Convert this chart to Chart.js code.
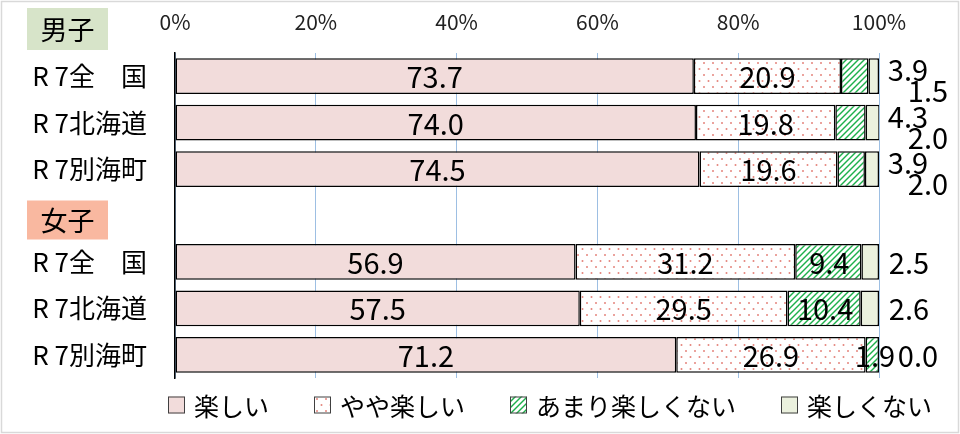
<!DOCTYPE html>
<html><head><meta charset="utf-8">
<script src="https://cdn.jsdelivr.net/npm/chart.js@4/dist/chart.umd.min.js"></script>
<style>html,body{margin:0;padding:0;background:#fff}#wrap{width:960px;height:434px;position:relative}</style>
</head><body><div id="wrap"><canvas id="c"></canvas></div>
<script>
const categories = ['R 7全　国','R 7北海道','R 7別海町','','R 7全　国','R 7北海道','R 7別海町'];
const seriesNames = ['楽しい','やや楽しい','あまり楽しくない','楽しくない'];
const tanoshii      = [73.7, 74.0, 74.5, null, 56.9, 57.5, 71.2];
const yayaTanoshii  = [20.9, 19.8, 19.6, null, 31.2, 29.5, 26.9];
const amari         = [3.9, 4.3, 3.9, null, 9.4, 10.4, 1.9];
const tanoshikunai  = [1.5, 2.0, 2.0, null, 2.5, 2.6, 0.0];
const xTicks = [0,20,40,60,80,100];
const groupHeaders = ['男子','女子'];

const FONT = '"Noto Sans CJK JP","Noto Sans",sans-serif';

function dotPattern(){
  const c=document.createElement('canvas');c.width=9;c.height=12;
  const g=c.getContext('2d');g.fillStyle='#fff';g.fillRect(0,0,9,12);
  g.fillStyle='#E4847C';
  g.beginPath();g.arc(2,3,1,0,Math.PI*2);g.fill();
  g.beginPath();g.arc(6.5,9,1,0,Math.PI*2);g.fill();
  return document.createElement('canvas').getContext('2d').createPattern(c,'repeat');
}
function stripePattern(){
  const c=document.createElement('canvas');c.width=6;c.height=6;
  const g=c.getContext('2d');g.fillStyle='#fff';g.fillRect(0,0,6,6);
  g.strokeStyle='#1DB04B';g.lineWidth=1.4;
  [[-3,9,9,-3],[-6,6,6,-6],[0,12,12,0]].forEach(l=>{g.beginPath();g.moveTo(l[0],l[1]);g.lineTo(l[2],l[3]);g.stroke();});
  return document.createElement('canvas').getContext('2d').createPattern(c,'repeat');
}
const fills = ['#F2DCDB', dotPattern(), stripePattern(), '#EBF1DE'];
const values = [tanoshii, yayaTanoshii, amari, tanoshikunai];

function labelPos(ds,row,bar,x100,v){
  const cx=(bar.x+bar.base)/2;
  if(ds<=1) return {x:cx,y:bar.y};
  if(ds===2) return row<3 ? {x:x100+29,y:bar.y-7} : (v<3 ? {x:x100-4,y:bar.y} : {x:cx+1,y:bar.y});
  return row<3 ? {x:x100+49,y:bar.y+14} : {x:x100+(v===0?39:30),y:bar.y};
}

const decor = {
  id:'decor',
  beforeDraw(chart){
    const ctx=chart.ctx;ctx.save();
    ctx.fillStyle='#fff';ctx.fillRect(0,0,chart.width,chart.height);
    ctx.strokeStyle='#D9D9D9';ctx.lineWidth=1.5;ctx.strokeRect(1.5,1.5,chart.width-3,chart.height-3);
    ctx.restore();
  },
  afterDatasetsDraw(chart){
    const ctx=chart.ctx;const xs=chart.scales.x;const ys=chart.scales.y;
    const x100=xs.getPixelForValue(100);
    ctx.save();
    ctx.font='29px '+FONT;ctx.fillStyle='#000';ctx.textAlign='center';ctx.textBaseline='middle';
    chart.data.datasets.forEach((d,i)=>{
      const meta=chart.getDatasetMeta(i);
      meta.data.forEach((bar,j)=>{
        const v=d.data[j];if(v===null||v===undefined)return;
        const p=labelPos(i,j,bar,x100,v);
        ctx.fillText(v.toFixed(1),p.x,p.y+1);
      });
    });
    // group headers
    const hdr=[{t:groupHeaders[0],c:'#D7E4C9',y0:8,y1:50},{t:groupHeaders[1],c:'#F9B8A0',y0:ys.getPixelForValue(3)-15,y1:ys.getPixelForValue(3)+24}];
    hdr.forEach(h=>{
      ctx.fillStyle=h.c;ctx.fillRect(27,h.y0,81,h.y1-h.y0);
      ctx.fillStyle='#000';ctx.font='27px '+FONT;ctx.textAlign='center';ctx.textBaseline='middle';
      ctx.fillText(h.t,67.5,(h.y0+h.y1)/2+1);
    });
    // legend
    ctx.font='25px '+FONT;ctx.textBaseline='middle';ctx.textAlign='left';
    let x=168;const ly=405;
    seriesNames.forEach((n,i)=>{
      ctx.fillStyle=fills[i];ctx.fillRect(x,ly-8.5,17,17);
      ctx.strokeStyle='#404040';ctx.lineWidth=1;ctx.strokeRect(x+0.5,ly-8,16,16);
      ctx.fillStyle='#000';ctx.fillText(n,x+26,ly+1);
      x+=26+ctx.measureText(n).width+45;
    });
    ctx.restore();
  }
};

new Chart(document.getElementById('c'),{
  type:'bar',
  data:{labels:categories,datasets:values.map((v,i)=>({
    label:seriesNames[i],data:v,backgroundColor:fills[i],borderColor:'#000',borderWidth:1.5,
    borderSkipped:false,barPercentage:0.77,categoryPercentage:1
  }))},
  options:{
    indexAxis:'y',responsive:true,maintainAspectRatio:false,animation:false,
    layout:{padding:{left:0,right:81,top:0,bottom:56}},
    plugins:{legend:{display:false},tooltip:{enabled:false}},
    scales:{
      x:{position:'top',stacked:true,min:0,max:100,
        afterBuildTicks(s){s.ticks=xTicks.map(v=>({value:v}));},
        afterFit(s){s.height=53;},
        ticks:{padding:18,color:'#222',font:{family:FONT,size:21},callback:v=>v+'%'},
        grid:{color:'#9DBFE3',lineWidth:1,drawTicks:false},
        border:{display:false}},
      y:{stacked:true,
        afterFit(s){s.width=175;},
        ticks:{padding:28,color:'#000',font:{family:FONT,size:26}},
        grid:{display:false,drawTicks:false},
        border:{display:true,color:'#000',width:1.5}}
    }
  },
  plugins:[decor]
});
</script></body></html>
